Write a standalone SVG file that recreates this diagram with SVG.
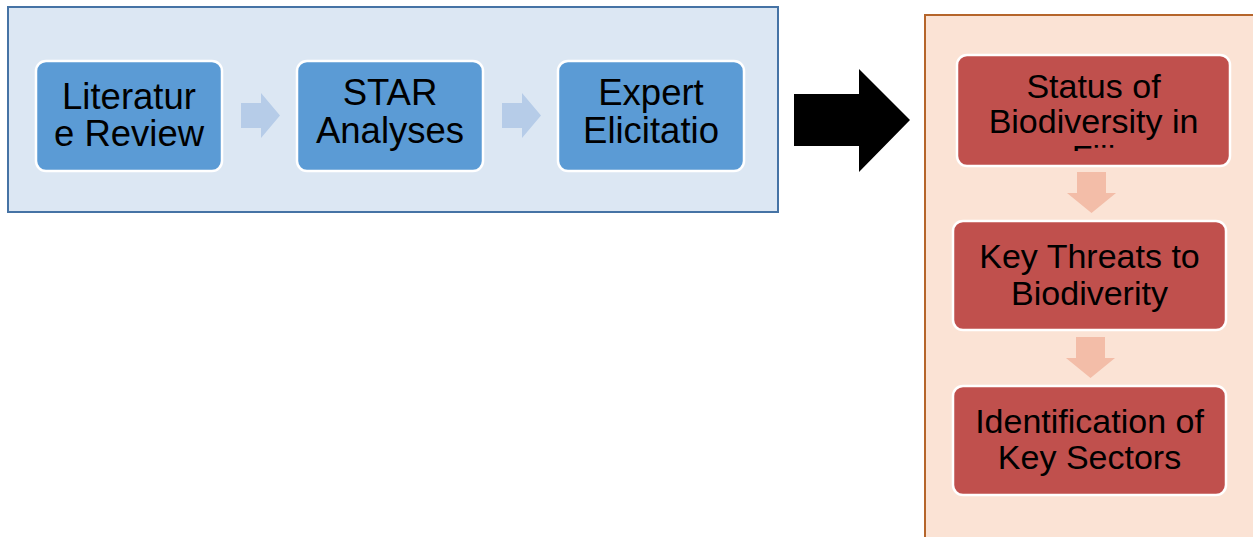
<svg xmlns="http://www.w3.org/2000/svg" width="1253" height="537" viewBox="0 0 1253 537">
<style>
.panelL{fill:#DCE7F3;stroke:#4673A5;stroke-width:2}
.panelR{fill:#FBE3D5;stroke:#B5652B;stroke-width:2}
.bbox{fill:#5B9BD5;stroke:#FFFFFF;stroke-width:2.5}
.rbox{fill:#C0504D;stroke:#FFFFFF;stroke-width:2.5}
.t{font-family:"Liberation Sans",Arial,sans-serif;fill:#000;text-anchor:middle}
.tb{font-size:36.5px}
.tr{font-size:34px}
.sa{fill:#B6CCE8}
.da{fill:#F3BDA8}
</style>
<defs>
<clipPath id="clipB"><rect x="0" y="0" width="1253" height="158"/></clipPath>
<clipPath id="clipR"><rect x="0" y="0" width="1253" height="151"/></clipPath>
</defs>
<rect class="panelL" x="8" y="7" width="770" height="205"/>
<rect class="panelR" x="925" y="15" width="340" height="540"/>
<g id="connectors">
<polygon class="sa" points="241,103 261,103 261,93 280,115.5 261,138 261,128 241,128"/>
<polygon class="sa" points="502,103 522,103 522,93 541,115.5 522,138 522,128 502,128"/>
<polygon fill="#000" points="794,94 859,94 859,69 910,120 859,172 859,146 794,146"/>
<polygon class="da" points="1077,172 1106,172 1106,193 1116,193 1091.5,213 1067,193 1077,193"/>
<polygon class="da" points="1076,337 1105,337 1105,358 1115,358 1090.5,378 1066,358 1076,358"/>
</g>
<g id="lit">
<rect class="bbox" x="36" y="61" width="186" height="110" rx="10"/>
<text class="t tb" x="129" y="109">Literatur</text>
<text class="t tb" x="129" y="146">e Review</text>
</g>
<g id="star">
<rect class="bbox" x="297" y="61" width="186" height="110" rx="10"/>
<text class="t tb" x="390" y="105">STAR</text>
<text class="t tb" x="390" y="143">Analyses</text>
</g>
<g id="expert">
<rect class="bbox" x="558" y="61" width="186" height="110" rx="10"/>
<text class="t tb" x="651" y="105">Expert</text>
<text class="t tb" x="651" y="143">Elicitatio</text>
<text class="t tb" x="651" y="181" clip-path="url(#clipB)">n</text>
</g>
<g id="status">
<rect class="rbox" x="957" y="55" width="273" height="111" rx="10"/>
<text class="t tr" x="1093.5" y="98">Status of</text>
<text class="t tr" x="1093.5" y="133">Biodiversity in</text>
<text class="t tr" x="1093.5" y="168.5" clip-path="url(#clipR)">Fiji</text>
</g>
<g id="threats">
<rect class="rbox" x="953" y="221" width="273" height="109" rx="10"/>
<text class="t tr" x="1089.5" y="268">Key Threats to</text>
<text class="t tr" x="1089.5" y="305">Biodiverity</text>
</g>
<g id="sectors">
<rect class="rbox" x="953" y="386" width="273" height="109" rx="10"/>
<text class="t tr" x="1089.5" y="433">Identification of</text>
<text class="t tr" x="1089.5" y="469">Key Sectors</text>
</g>
</svg>
